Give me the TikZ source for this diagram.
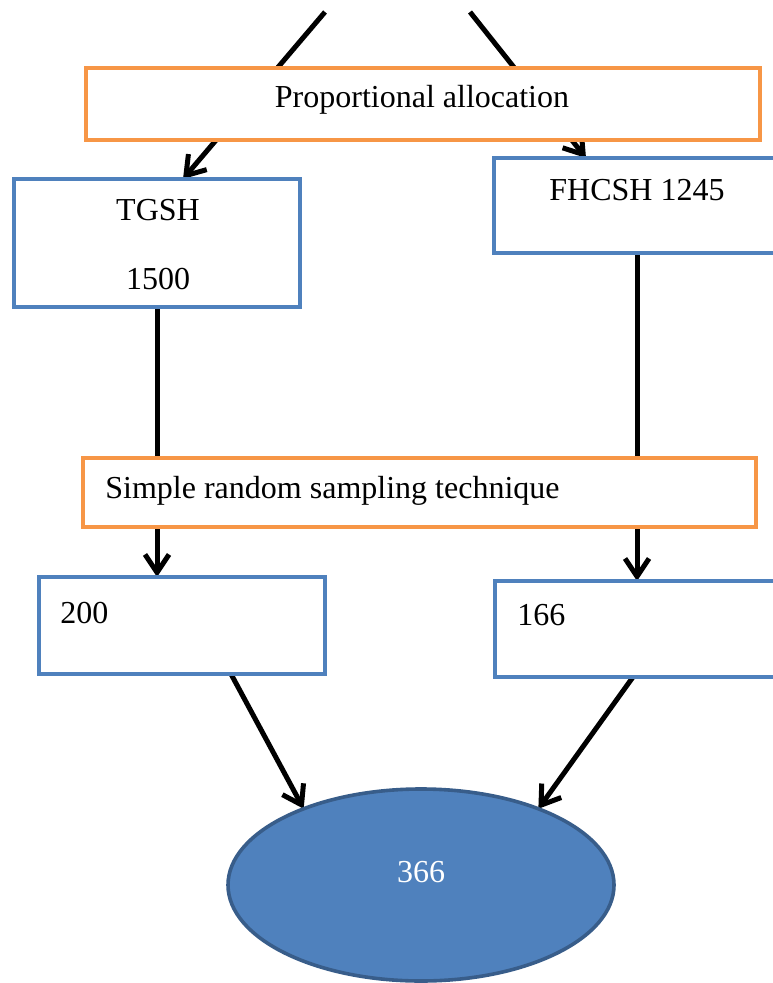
\documentclass[tikz,border=0pt]{standalone}
\usepackage{fontspec}
\setmainfont{Liberation Serif}
\usetikzlibrary{arrows.meta,shapes.geometric,backgrounds}
\definecolor{boxblue}{HTML}{4F81BD}
\definecolor{boxorange}{HTML}{F79646}
\definecolor{ellborder}{HTML}{385D8A}
\begin{document}
\begin{tikzpicture}[x=0.5pt,y=-0.5pt,
  bluebox/.style={draw=boxblue,line width=2.4pt,fill=white,rectangle,inner sep=0pt,outer sep=0pt},
  orangebox/.style={draw=boxorange,line width=2.4pt,fill=white,rectangle,inner sep=0pt,outer sep=0pt},
  lbl/.style={font=\fontsize{16}{19}\selectfont,inner sep=0pt,anchor=base},
  conn/.style={line width=2.5pt,black,-{Straight Barb[length=9pt,width=12pt]}}]
\useasboundingbox (0,0) rectangle (772,983);
% boxes
\node[orangebox,minimum width=337pt,minimum height=36pt] (prop) at (423,104) {};
\node[bluebox,minimum width=143pt,minimum height=64pt] (tgsh) at (157,243) {};
\node[bluebox,minimum width=143pt,minimum height=47.5pt] (fhcsh) at (637,205.5) {};
\node[orangebox,minimum width=336.5pt,minimum height=34.5pt] (srs) at (419.5,492.5) {};
\node[bluebox,minimum width=143pt,minimum height=48.5pt] (b200) at (182,625.5) {};
\node[bluebox,minimum width=143pt,minimum height=48pt] (b166) at (638,629) {};
\node[ellipse,draw=ellborder,line width=1.8pt,fill=boxblue,minimum width=193pt,minimum height=96pt,inner sep=0pt,outer sep=0pt] (res) at (421,885) {};
% texts
\node[lbl] (tprop) at (422,108) {Proportional allocation};
\node[lbl] (ttgsh) at (158,221) {TGSH};
\node[lbl] (t1500) at (158,290) {1500};
\node[lbl] (tfhcsh) at (637,201) {FHCSH 1245};
\node[lbl,anchor=base west] (tsrs) at (105,498) {Simple random sampling technique};
\node[lbl,anchor=base west] (t200) at (60,623) {200};
\node[lbl,anchor=base west] (t166) at (517,625) {166};
\node[lbl,text=white] (t366) at (421,882) {366};
% connectors
\coordinate (topL) at (325,12);
\coordinate (topR) at (470,12);
\begin{scope}[on background layer]
\draw[conn] (topL) -- ([xshift=13pt]tgsh.north);
\draw[conn] (topR) -- ([xshift=-25.5pt]fhcsh.north);
\draw[conn] (tgsh.south) -- (tgsh.south |- b200.north);
\draw[conn] (fhcsh.south) -- (fhcsh.south |- b166.north);
\draw[conn] ([xshift=24.5pt]b200.south) -- (res.147.5);
\draw[conn] ([xshift=-2.5pt]b166.south) -- (res.33.5);
\end{scope}
\end{tikzpicture}
\end{document}
